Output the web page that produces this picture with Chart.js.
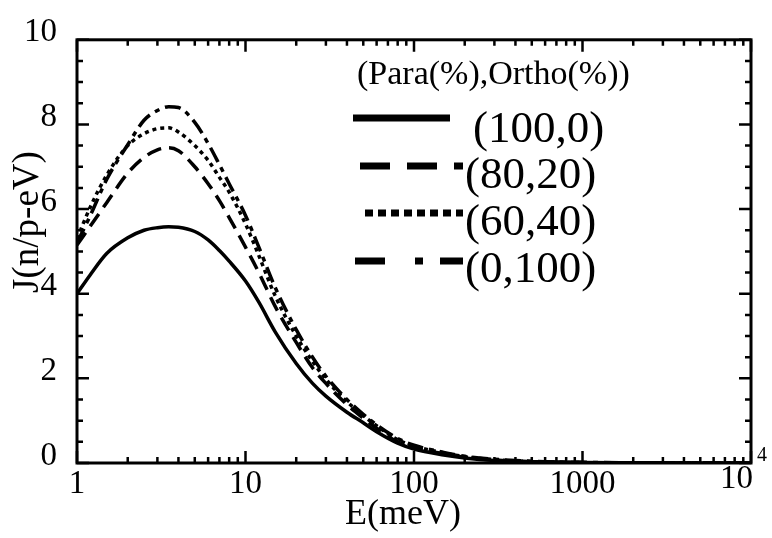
<!DOCTYPE html>
<html>
<head>
<meta charset="utf-8">
<script src="https://cdn.jsdelivr.net/npm/chart.js@4.4.1/dist/chart.umd.min.js"></script>
<style>
  html, body { margin: 0; padding: 0; background: #fff; }
  #wrap { width: 772px; height: 538px; }
</style>
</head>
<body>
<div id="wrap"><canvas id="c" width="772" height="538"></canvas></div>
<script>
// ---- data ----
const energy = [1, 1.2, 1.5, 2, 2.5, 3, 3.5, 4, 5, 6, 7, 8, 10, 12, 15, 20, 25, 30, 40, 50, 60, 80, 100, 150, 200, 300, 500, 1000, 2000, 5000, 10000];
const para100 = [4.0, 4.45, 4.95, 5.32, 5.5, 5.56, 5.58, 5.57, 5.47, 5.27, 5.02, 4.77, 4.3, 3.8, 3.1, 2.35, 1.88, 1.58, 1.2, 0.95, 0.74, 0.47, 0.33, 0.19, 0.12, 0.06, 0.03, 0.01, 0.005, 0.0, 0.0];
const para80 = [5.15, 5.6, 6.15, 6.85, 7.22, 7.4, 7.45, 7.38, 7.0, 6.6, 6.2, 5.8, 5.1, 4.5, 3.7, 2.85, 2.25, 1.88, 1.38, 1.06, 0.82, 0.5, 0.37, 0.22, 0.14, 0.07, 0.03, 0.01, 0.005, 0.0, 0.0];
const para60 = [5.3, 6.05, 6.8, 7.5, 7.78, 7.9, 7.92, 7.82, 7.5, 7.15, 6.75, 6.4, 5.65, 4.9, 3.95, 3.0, 2.4, 1.98, 1.45, 1.12, 0.88, 0.55, 0.4, 0.24, 0.15, 0.08, 0.03, 0.01, 0.005, 0.0, 0.0];
const para0 = [5.2, 5.85, 6.7, 7.52, 8.1, 8.33, 8.42, 8.4, 8.05, 7.55, 7.05, 6.6, 5.85, 5.1, 4.15, 3.15, 2.5, 2.05, 1.5, 1.15, 0.9, 0.58, 0.42, 0.25, 0.16, 0.09, 0.04, 0.015, 0.005, 0.0, 0.0];
const seriesLabels = ['(100,0)', '(80,20)', '(60,40)', '(0,100)'];
const legendTitle = '(Para(%),Ortho(%))';
const xTickValues = [1, 10, 100, 1000, 10000];
const yTickValues = [0, 2, 4, 6, 8, 10];
const xTitle = 'E(meV)';
const yTitle = 'J(n/p-eV)';

const SERIF = '"Liberation Serif", "Times New Roman", serif';
const seriesValues = [para100, para80, para60, para0];
const plotDashes = [[], [15, 8], [4, 4], [16, 6, 5, 6]];
const legendDashes = [[], [30, 17], [8, 5], [30, 30, 8, 17]];

function pts(vals) { return energy.map((e, i) => ({ x: e, y: vals[i] })); }

const datasets = seriesValues.map((v, i) => ({
  label: seriesLabels[i],
  data: pts(v),
  borderColor: '#000',
  borderWidth: 3.5,
  borderDash: plotDashes[i],
  pointRadius: 0,
  fill: false,
  cubicInterpolationMode: 'monotone'
}));

const framePlugin = {
  id: 'frame',
  afterDraw(chart) {
    const ctx = chart.ctx;
    const a = chart.chartArea;
    const xs = chart.scales.x, ys = chart.scales.y;
    ctx.save();
    ctx.strokeStyle = '#000';
    ctx.fillStyle = '#000';
    // frame
    ctx.lineWidth = 3;
    ctx.strokeRect(a.left, a.top, a.right - a.left, a.bottom - a.top);
    // x ticks (log minor)
    ctx.lineWidth = 2.5;
    for (let d = 0; d <= 4; d++) {
      for (let m = 1; m <= 9; m++) {
        const v = m * Math.pow(10, d);
        if (v > 10000) break;
        const px = xs.getPixelForValue(v);
        const len = m === 1 ? 12 : 6;
        ctx.beginPath();
        ctx.moveTo(px, a.bottom); ctx.lineTo(px, a.bottom - len);
        ctx.moveTo(px, a.top); ctx.lineTo(px, a.top + len);
        ctx.stroke();
      }
    }
    // y ticks every 0.5
    for (let k = 0; k <= 20; k++) {
      const v = k * 0.5;
      const py = ys.getPixelForValue(v);
      const len = (k % 4 === 0) ? 12 : 6;
      ctx.beginPath();
      ctx.moveTo(a.left, py); ctx.lineTo(a.left + len, py);
      ctx.moveTo(a.right, py); ctx.lineTo(a.right - len, py);
      ctx.stroke();
    }
    // 10^4 label
    const p4 = xs.getPixelForValue(10000);
    ctx.font = '33px ' + SERIF;
    ctx.textAlign = 'right';
    ctx.textBaseline = 'alphabetic';
    ctx.fillText('10', p4 + 2, 488);
    ctx.font = '20px ' + SERIF;
    ctx.textAlign = 'left';
    ctx.fillText('4', p4 + 6, 461);
    // axis titles
    ctx.font = '36px ' + SERIF;
    ctx.textAlign = 'center';
    ctx.fillText(xTitle, 403, 524);
    ctx.save();
    ctx.translate(38, 222);
    ctx.rotate(-Math.PI / 2);
    ctx.font = '37px ' + SERIF;
    ctx.fillText(yTitle, 0, 0);
    ctx.restore();
    // legend
    ctx.textAlign = 'left';
    ctx.font = '34px ' + SERIF;
    ctx.fillText(legendTitle, 357, 84);
    const lineY = [118, 166, 213, 261];
    const textY = [142, 188, 235, 282];
    const lineX0 = [353, 360, 365, 355];
    const textX = [473, 465, 465, 465];
    ctx.font = '45px ' + SERIF;
    for (let i = 0; i < 4; i++) {
      ctx.save();
      ctx.lineWidth = 7;
      ctx.lineCap = 'butt';
      ctx.setLineDash(legendDashes[i]);
      ctx.beginPath();
      ctx.moveTo(lineX0[i], lineY[i]);
      ctx.lineTo(i === 0 ? 450 : 463, lineY[i]);
      ctx.stroke();
      ctx.restore();
      ctx.fillText(seriesLabels[i], textX[i], textY[i]);
    }
    ctx.restore();
  }
};

new Chart(document.getElementById('c'), {
  type: 'line',
  data: { datasets },
  options: {
    responsive: false,
    animation: false,
    devicePixelRatio: 1,
    layout: { padding: { left: 0, top: 30, right: 21, bottom: 0 } },
    plugins: { legend: { display: false }, tooltip: { enabled: false } },
    scales: {
      x: {
        type: 'logarithmic',
        min: 1, max: 10000,
        grid: { display: false, drawTicks: false },
        border: { display: false },
        afterBuildTicks(scale) { scale.ticks = xTickValues.map(v => ({ value: v })); },
        afterFit(scale) { scale.height = 75; },
        ticks: {
          autoSkip: false,
          maxRotation: 0,
          padding: 2,
          color: '#000',
          font: { family: SERIF, size: 33 },
          callback: (v) => (v === 10000 ? '' : String(v))
        }
      },
      y: {
        min: 0, max: 10,
        grid: { display: false, drawTicks: false },
        border: { display: false },
        afterBuildTicks(scale) { scale.ticks = yTickValues.map(v => ({ value: v })); },
        afterFit(scale) { scale.width = 77; },
        ticks: {
          padding: 20,
          labelOffset: -7,
          color: '#000',
          font: { family: SERIF, size: 33 }
        }
      }
    }
  },
  plugins: [framePlugin]
});
</script>
</body>
</html>
